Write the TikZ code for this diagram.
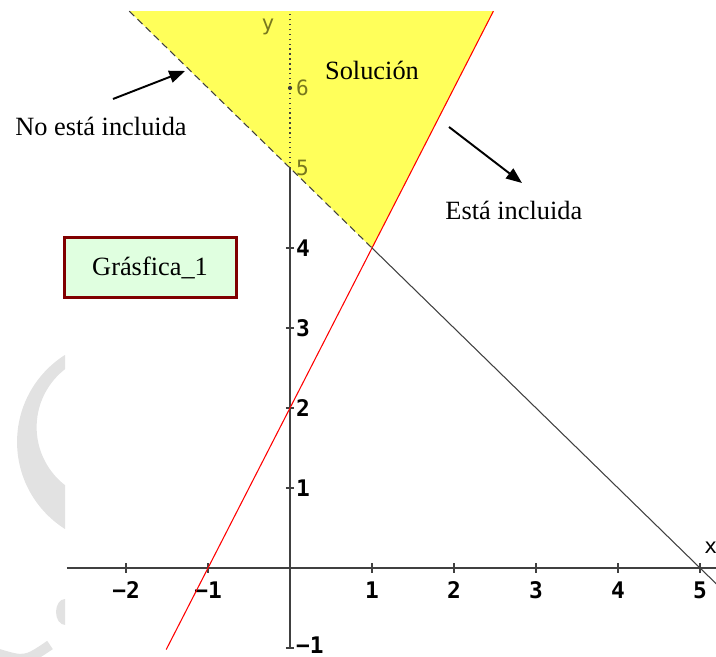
\documentclass[tikz,border=0pt]{standalone}
\usepackage{fontspec}
\setmainfont{Liberation Serif}
\newfontfamily\axisfont{DejaVu Sans Mono}
\usetikzlibrary{arrows.meta}

\definecolor{solyellow}{RGB}{255,255,90}
\definecolor{boxred}{RGB}{128,0,0}
\definecolor{boxgreen}{RGB}{224,255,224}
\definecolor{axisgray}{RGB}{64,64,64}
\definecolor{dimlabel}{RGB}{120,120,30}
\definecolor{markgray}{RGB}{226,226,226}

\begin{document}
\begin{tikzpicture}[
  x=1.64cm, y=1.6cm,
  axis/.style={axisgray, line width=1.1pt},
  tickmark/.style={axisgray, line width=0.8pt},
  numlbl/.style={font=\axisfont\bfseries\fontsize{13}{15}\selectfont, inner sep=0pt},
  dimlbl/.style={font=\axisfont\fontsize{12}{14}\selectfont, text=dimlabel, inner sep=0pt},
  note/.style={font=\fontsize{15}{18}\selectfont, inner sep=1pt},
  pointer/.style={line width=1.1pt, -{Triangle[length=9pt,width=7pt]}},
  redline/.style={red, line width=0.6pt},
  boundline/.style={axisgray, line width=0.6pt},
  titlebox/.style={draw=boxred, fill=boxgreen, line width=1.7pt, minimum width=3.44cm,
                   minimum height=1.2cm, font=\fontsize{15}{18}\selectfont},
]
  \clip (-3.537,-1.1125) rectangle (5.195,7.1);

  % watermark
  \begin{scope}
    \clip (-3.6,-1.2) rectangle (-2.744,7.1);
    \fill[markgray, even odd rule] (-2.073,1.575) ellipse [x radius=1.256, y radius=1.2875]
                                   (-2.19,1.76) ellipse [x radius=0.9, y radius=0.92];
    \fill[markgray] (-2.744,-0.55) ellipse [x radius=0.11, y radius=0.1625];
  \end{scope}
  \draw[markgray, line width=5.7pt] (-3.6,-1.06) .. controls (-3.232,-1.175) .. (-2.927,-0.9625);

  % solution region
  \fill[solyellow] (-1.96,6.96) -- (2.48,6.96) -- (1,4) -- cycle;

  % axes
  \draw[axis] (-2.72,0) -- (5.3,0);
  \draw[axis] (0,-1) -- (0,5);
  \draw[axisgray, line width=0.8pt, dotted] (0,5) -- (0,6.96);
  \foreach \i/\t [count=\k] in {-2/−2,-1/−1,1/1,2/2,3/3,4/4,5/5} {
    \draw[tickmark] (\i,-0.06) -- (\i,0.06);
    \node[numlbl] (xl\k) at (\i,-0.28) {\t};
  }
  \foreach \i in {-1,1,2,3,4} {
    \draw[tickmark] (-0.05,\i) -- (0.05,\i);
  }
  \foreach \i in {1,2,3,4} {
    \node[numlbl, anchor=west] (yl\i) at (0.07,\i) {\i};
  }
  \node[numlbl, anchor=west] (ylm) at (0.07,-0.96) {−1};
  \fill[axisgray] (0,6) circle (1.2pt);
  \node[dimlbl, anchor=west] (yl5) at (0.07,5) {5};
  \node[dimlbl, anchor=west] (yl6) at (0.07,6) {6};
  \node[dimlbl] (ylab) at (-0.268,6.76) {y};
  \node[dimlbl, text=black] (xlab) at (5.13,0.25) {x};

  % boundary lines
  \draw[redline] (-1.51,-1.02) -- (2.48,6.96);
  \draw[boundline, dash pattern=on 4pt off 2.5pt] (-1.96,6.96) -- (1,4);
  \draw[boundline] (1,4) -- (5.3,-0.3);

  % notes
  \node[note] (sol) at (1.0,6.225) {Solución};
  \node[note] (noinc) at (-2.305,5.525) {No está incluida};
  \node[note] (inc) at (2.73,4.475) {Está incluida};
  \node[titlebox] (graf) at (-1.707,3.756) {Grásfica\_1};

  \coordinate (notail) at (-2.159,5.8625);
  \coordinate (nohead) at (-1.280,6.2125);
  \coordinate (inctail) at (1.939,5.5125);
  \coordinate (inchead) at (2.829,4.8125);
  \draw[pointer] (notail) -- (nohead);
  \draw[pointer] (inctail) -- (inchead);
\end{tikzpicture}
\end{document}
